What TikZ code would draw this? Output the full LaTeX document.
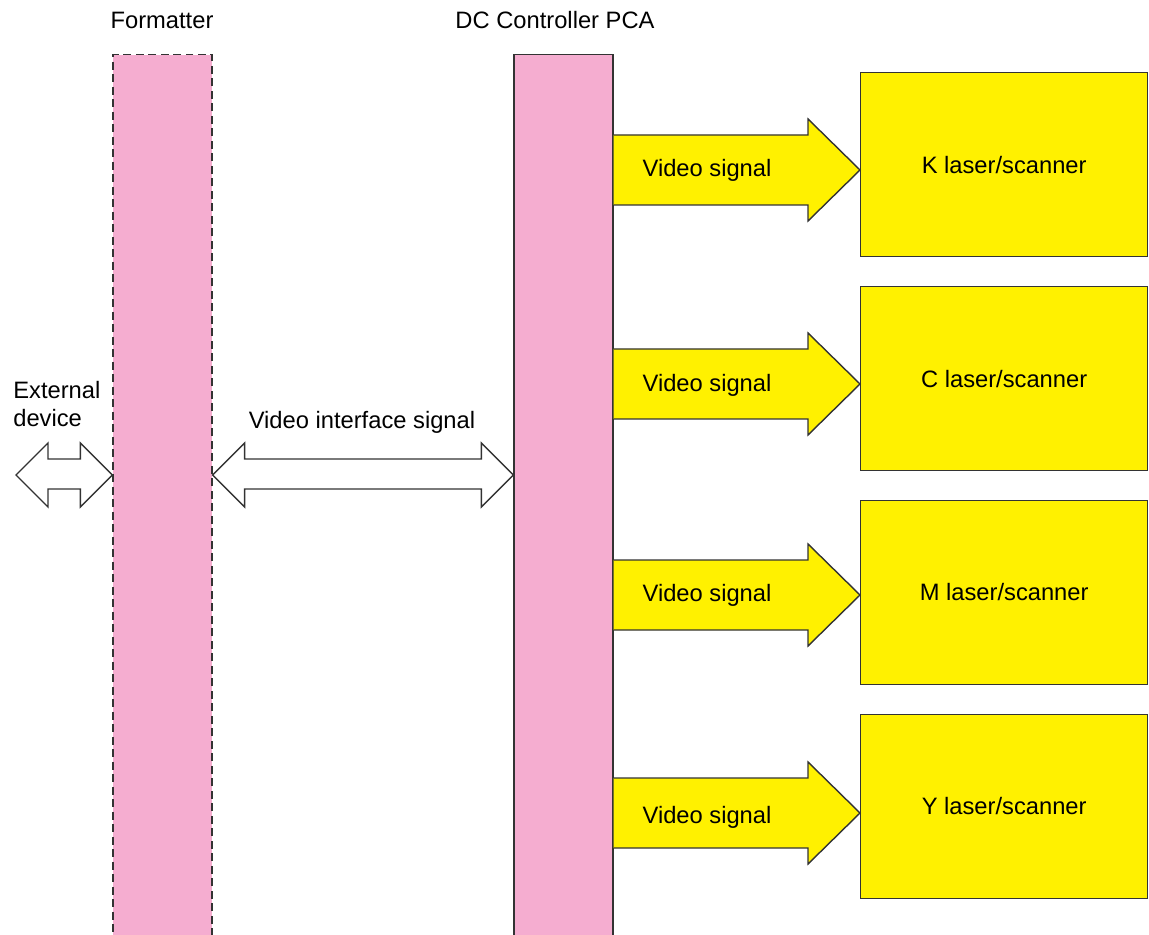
\documentclass[tikz,border=0pt]{standalone}
\usepackage{fontspec}
\setmainfont{Liberation Sans}
\usetikzlibrary{positioning,calc}

\definecolor{boardpink}{HTML}{F5ADD0}
\definecolor{unityellow}{HTML}{FFF100}
\definecolor{edgegray}{HTML}{333333}

% block arrow from the DC controller to a laser/scanner box
\newcommand{\videoarrow}[2]{%
  \draw[sigarrow] (dc.east |- 0,#2-35) -- (808,#2-35) -- (808,#2-51)
    -- (#1.west |- 0,#2) -- (808,#2+51) -- (808,#2+35) -- (dc.east |- 0,#2+35);
}
% hollow two-way arrow between two x positions
\newcommand{\twowayarrow}[2]{%
  \draw[wayarrow] (#1) -- ($(#1)+(32,-32)$) -- ($(#1)+(32,-16)$)
    -- ($(#2)+(-32,-16)$) -- ($(#2)+(-32,-32)$) -- (#2)
    -- ($(#2)+(-32,32)$) -- ($(#2)+(-32,14)$)
    -- ($(#1)+(32,14)$) -- ($(#1)+(32,32)$) -- cycle;
}

\begin{document}
\begin{tikzpicture}[x=0.02cm,y=-0.02cm,node distance=0.57cm,
   font=\fontsize{13.5}{16}\selectfont,
   bar/.style={draw=edgegray,fill=boardpink,line width=0.8pt,
     minimum width=1.98cm,minimum height=17.9cm,inner sep=0pt},
   unitbox/.style={draw=edgegray,fill=unityellow,line width=0.8pt,
     minimum width=5.74cm,minimum height=3.68cm},
   sigarrow/.style={draw=edgegray,fill=unityellow,line width=0.8pt,line join=miter},
   wayarrow/.style={draw=edgegray,fill=white,line width=0.8pt,line join=miter},
   siglabel/.style={inner sep=0pt}]
  \useasboundingbox (0,0) rectangle (1149,935);

  % boards
  \node[bar,dash pattern=on 0.16cm off 0.09cm,anchor=north] (fmt) at (162.5,54) {};
  \node[bar,anchor=north] (dc) at (563.5,54) {};
  \node[siglabel] (fmttitle) at (162,20) {Formatter};
  \node[siglabel] (dctitle) at (555,20) {DC Controller PCA};

  % laser/scanner units
  \node[unitbox,anchor=north west] (kls) at (860,72) {K laser/scanner};
  \node[unitbox] (cls) [below=of kls] {C laser/scanner};
  \node[unitbox] (mls) [below=of cls] {M laser/scanner};
  \node[unitbox] (yls) [below=of mls] {Y laser/scanner};

  \videoarrow{kls}{170}
  \videoarrow{cls}{384}
  \videoarrow{mls}{595}
  \videoarrow{yls}{813}
  \node[siglabel] at (707,170) {Video signal};
  \node[siglabel] at (707,385) {Video signal};
  \node[siglabel] at (707,595) {Video signal};
  \node[siglabel] at (707,817) {Video signal};

  % interfaces
  \coordinate (extdev) at (16,475);
  \coordinate (fmtin) at (fmt.west |- 0,475);
  \coordinate (fmtout) at (fmt.east |- 0,475);
  \coordinate (dcin) at (dc.west |- 0,475);
  \twowayarrow{extdev}{fmtin}
  \twowayarrow{fmtout}{dcin}
  \node[siglabel,align=left,anchor=west] (extlabel) at (13,404) {External\\device};
  \node[siglabel] (vilabel) at (362,422) {Video interface signal};
\end{tikzpicture}
\end{document}
